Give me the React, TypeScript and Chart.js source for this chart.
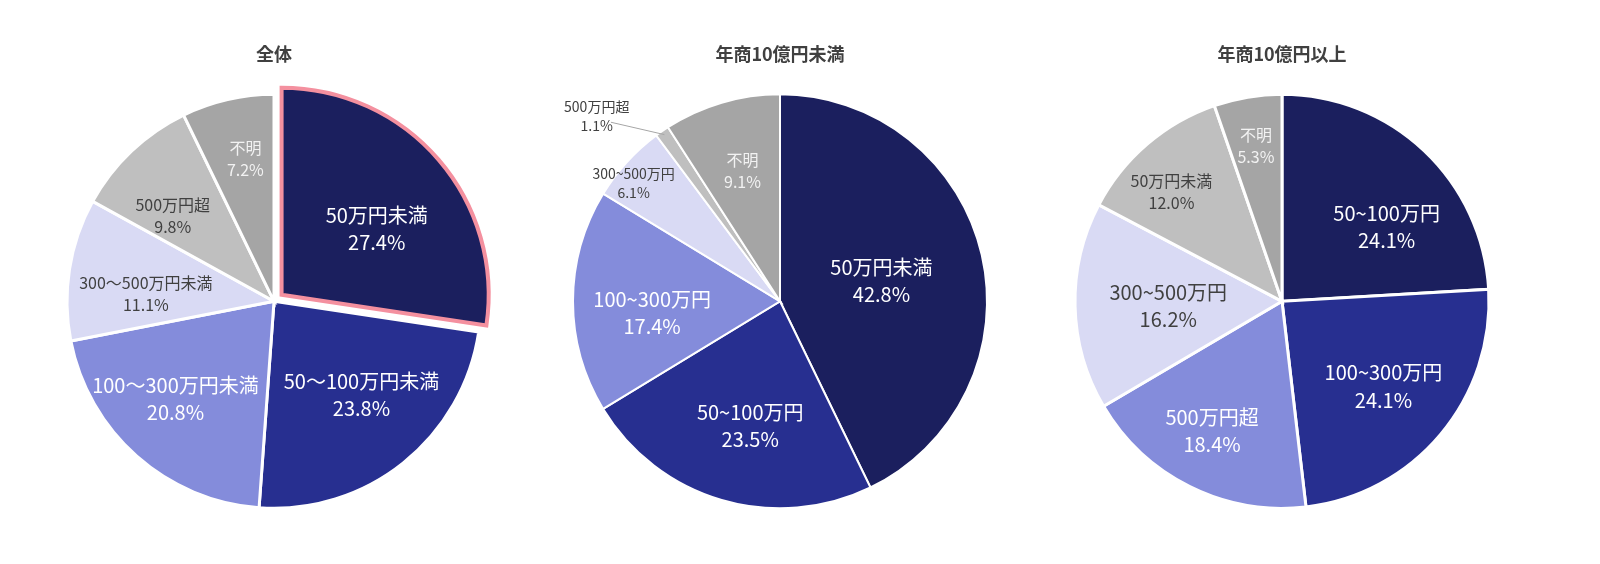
import { useEffect, useRef } from "react";
import { Chart, registerables } from "chart.js";

Chart.register(...registerables);

// slice colours, in draw order
const sliceColors = ["#1b1f5e", "#272f90", "#848cdb", "#d9daf4", "#bfbfbf", "#a5a5a5"];
const labelColors = ["#ffffff", "#ffffff", "#ffffff", "#404040", "#404040", "#f2f2f2"];

// 全体
const allTitle = "全体";
const allLabels = ["50万円未満", "50～100万円未満", "100～300万円未満", "300～500万円未満", "500万円超", "不明"];
const allValues = [27.4, 23.8, 20.8, 11.1, 9.8, 7.2];

// 年商10億円未満
const smallTitle = "年商10億円未満";
const smallLabels = ["50万円未満", "50~100万円", "100~300万円", "300~500万円", "500万円超", "不明"];
const smallValues = [42.8, 23.5, 17.4, 6.1, 1.1, 9.1];

// 年商10億円以上
const largeTitle = "年商10億円以上";
const largeLabels = ["50~100万円", "100~300万円", "500万円超", "300~500万円", "50万円未満", "不明"];
const largeValues = [24.1, 24.1, 18.4, 16.2, 12.0, 5.3];

const FONT = "'Noto Sans CJK JP', 'Noto Sans', sans-serif";

interface PieSpec {
  title: string;
  labels: string[];
  values: number[];
  centerX: number;
  explode: number[]; // pixels the slice is pulled out
  borderColors: string[];
  borderWidths: number[];
  labelRadius: number[];
  labelAngle: number[];
  fontSizes: number[];
  leader: boolean[];
}

const specs: PieSpec[] = [
  {
    title: allTitle,
    labels: allLabels,
    values: allValues,
    centerX: 274,
    explode: [10, 0, 0, 0, 0, 0],
    borderColors: ["#f4909f", "#fff", "#fff", "#fff", "#fff", "#fff"],
    borderWidths: [4, 3, 3, 3, 3, 3],
    labelRadius: [0.56, 0.62, 0.67, 0.62, 0.64, 0.7],
    labelAngle: [0.56, 0.45, 0.55, 0.36, 0.32, 0.56],
    fontSizes: [20, 20, 20, 16, 16, 16],
    leader: [false, false, false, false, false, false],
  },
  {
    title: smallTitle,
    labels: smallLabels,
    values: smallValues,
    centerX: 780,
    explode: [0, 0, 0, 0, 0, 0],
    borderColors: ["#fff", "#fff", "#fff", "#fff", "#fff", "#fff"],
    borderWidths: [2, 2, 2, 2, 2, 2],
    labelRadius: [0.5, 0.62, 0.62, 0.91, 1.26, 0.655],
    labelAngle: [0.51, 0.465, 0.42, 0.35, -2, 0.51],
    fontSizes: [20, 20, 20, 14, 14, 16],
    leader: [false, false, false, false, true, false],
  },
  {
    title: largeTitle,
    labels: largeLabels,
    values: largeValues,
    centerX: 1282,
    explode: [0, 0, 0, 0, 0, 0],
    borderColors: ["#fff", "#fff", "#fff", "#fff", "#fff", "#fff"],
    borderWidths: [3, 3, 3, 3, 3, 3],
    labelRadius: [0.62, 0.64, 0.71, 0.55, 0.75, 0.76],
    labelAngle: [0.63, 0.5, 0.53, 0.48, 0.39, 0.5],
    fontSizes: [20, 20, 20, 20, 16, 16],
    leader: [false, false, false, false, false, false],
  },
];

const CANVAS_W = 500;
const CANVAS_H = 564;

const sliceLabelPlugin = {
  id: "sliceLabels",
  afterDatasetsDraw(chart: any, _args: any, opts: any) {
    const spec: PieSpec = opts.spec;
    const ctx = chart.ctx;
    const meta = chart.getDatasetMeta(0);
    meta.data.forEach((arc: any, i: number) => {
      const { x, y, startAngle, endAngle, outerRadius } = arc.getProps(
        ["x", "y", "startAngle", "endAngle", "outerRadius"],
        true
      );
      const mid = (startAngle + endAngle) / 2;
      const off = spec.explode[i];
      const cx = x + Math.cos(mid) * off;
      const cy = y + Math.sin(mid) * off;
      const a = startAngle + (endAngle - startAngle) * spec.labelAngle[i];
      const r = outerRadius * spec.labelRadius[i];
      const lx = cx + Math.cos(a) * r;
      const ly = cy + Math.sin(a) * r;
      const size = spec.fontSizes[i];
      const gap = size * 1.36;
      const line1 = spec.labels[i];
      const line2 = spec.values[i].toFixed(1) + "%";
      ctx.save();
      ctx.font = `${size}px ${FONT}`;
      ctx.fillStyle = spec.leader[i] ? "#404040" : labelColors[i];
      ctx.textAlign = "center";
      ctx.textBaseline = "middle";
      ctx.fillText(line1, lx, ly - gap / 2);
      ctx.fillText(line2, lx, ly + gap / 2);
      if (spec.leader[i]) {
        const w2 = ctx.measureText(line2).width;
        const ex = cx + Math.cos(mid) * outerRadius * 0.98;
        const ey = cy + Math.sin(mid) * outerRadius * 0.98;
        ctx.strokeStyle = "#a6a6a6";
        ctx.lineWidth = 1;
        ctx.beginPath();
        ctx.moveTo(lx + w2 / 2 - 2, ly + gap / 2 - 3);
        ctx.lineTo(ex, ey);
        ctx.stroke();
      }
      ctx.restore();
    });
  },
};

const PieChart = ({ spec }: { spec: PieSpec }) => {
  const canvasRef = useRef<HTMLCanvasElement>(null);

  useEffect(() => {
    if (!canvasRef.current) return;
    const chart = new Chart(canvasRef.current, {
      type: "pie",
      data: {
        labels: spec.labels,
        datasets: [
          {
            data: spec.values,
            backgroundColor: sliceColors,
            borderColor: spec.borderColors,
            borderWidth: spec.borderWidths,
            // chart.js moves an arc by offset / 4
            offset: spec.explode.map((e) => e * 4),
            borderJoinStyle: "miter",
            radius: 207,
          } as any,
        ],
      },
      options: {
        responsive: false,
        animation: false,
        layout: { padding: { top: 0, bottom: 45, left: 0, right: 0 } },
        plugins: {
          legend: { display: false },
          tooltip: { enabled: false },
          title: {
            display: true,
            text: spec.title,
            color: "#404040",
            font: { family: FONT, size: 18, weight: "bold", lineHeight: 1.2 },
            padding: { top: 43, bottom: 19 },
          },
          sliceLabels: { spec },
        } as any,
      },
      plugins: [sliceLabelPlugin],
    });
    return () => {
      chart.destroy();
    };
  }, [spec]);

  return (
    <div
      style={{
        position: "absolute",
        left: spec.centerX - CANVAS_W / 2,
        top: 0,
        width: CANVAS_W,
        height: CANVAS_H,
      }}
    >
      <canvas ref={canvasRef} width={CANVAS_W} height={CANVAS_H} />
    </div>
  );
};

export default function App() {
  useEffect(() => {
    document.body.style.margin = "0";
    document.body.style.background = "#ffffff";
  }, []);

  return (
    <div style={{ position: "relative", width: 1600, height: 564, overflow: "hidden", background: "#fff" }}>
      {specs.map((s) => (
        <PieChart key={s.title} spec={s} />
      ))}
    </div>
  );
}
